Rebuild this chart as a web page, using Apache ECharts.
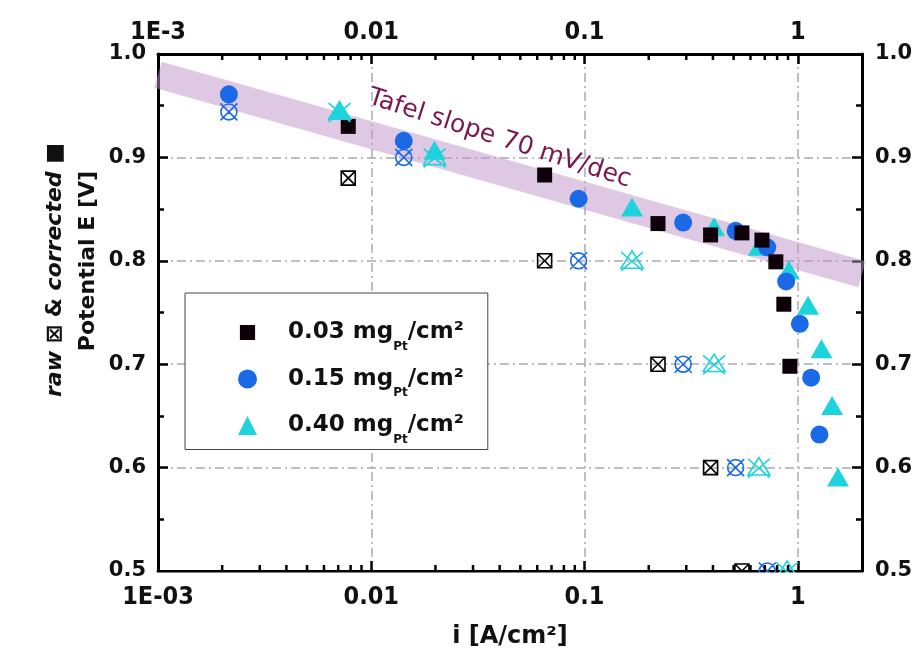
<!DOCTYPE html>
<html><head><meta charset="utf-8">
<script src="https://cdn.jsdelivr.net/npm/echarts@6/dist/echarts.min.js"></script>
<style>html,body{margin:0;padding:0;background:#fff}#c{width:919px;height:662px}</style>
</head><body><div id="c"></div>
<script>
// ---- data ----
const corr003_i = [0.0078, 0.065, 0.221, 0.39, 0.547, 0.679, 0.789, 0.86, 0.918];
const corr003_E = [0.930, 0.883, 0.836, 0.825, 0.827, 0.820, 0.799, 0.758, 0.698];
const raw003_i  = [0.0078, 0.065, 0.221, 0.39, 0.547];
const raw003_E  = [0.880, 0.800, 0.700, 0.600, 0.500];
const corr015_i = [0.00215, 0.0142, 0.0938, 0.290, 0.511, 0.719, 0.882, 1.022, 1.155, 1.263];
const corr015_E = [0.961, 0.916, 0.860, 0.837, 0.829, 0.813, 0.780, 0.739, 0.687, 0.632];
const raw015_i  = [0.00215, 0.0142, 0.0938, 0.290, 0.511, 0.719];
const raw015_E  = [0.944, 0.900, 0.800, 0.700, 0.600, 0.500];
const corr040_i = [0.0071, 0.0198, 0.167, 0.405, 0.657, 0.908, 1.117, 1.291, 1.448, 1.544];
const corr040_E = [0.946, 0.907, 0.852, 0.833, 0.814, 0.791, 0.757, 0.715, 0.660, 0.591];
const raw040_i  = [0.0071, 0.0198, 0.167, 0.405, 0.657, 0.89];
const raw040_E  = [0.944, 0.900, 0.800, 0.700, 0.600, 0.500];
const tafel_i = [0.001, 2];
const tafel_E = [0.980, 0.787];
const seriesNames = ['0.03', '0.15', '0.40'];
const xMinorTicks = [0.002,0.003,0.004,0.005,0.006,0.007,0.008,0.009,
                     0.02,0.03,0.04,0.05,0.06,0.07,0.08,0.09,
                     0.2,0.3,0.4,0.5,0.6,0.7,0.8,0.9];
const bottomTickLabels = {'-3':'1E-03','-2':'0.01','-1':'0.1','0':'1'};
const topTickLabels = {'-3':'1E-3','-2':'0.01','-1':'0.1','0':'1'};
const tafelText = 'Tafel slope 70 mV/dec';

// ---- helpers ----
const pairs = (xs, ys) => xs.map((x, k) => [x, ys[k]]);
const BLACK = '#0d0008', BLUE = '#1a6ae8', CYAN = '#1fd3dc';
const narrow = "'Liberation Sans Narrow','DejaVu Sans Condensed',sans-serif";
const wide = "'DejaVu Sans',sans-serif";
const gridLine = {show: true, lineStyle: {color: '#aaaaaa', width: 1.5, type: [9, 4, 2, 4]}};
function logLabel(map) {
  return v => { const e = Math.round(Math.log10(v)); return (Math.abs(Math.log10(v) - e) < 1e-6 && map[String(e)] !== undefined) ? map[String(e)] : ''; };
}
const sqX = 'path://M0,0H10V10H0Z M0,0L10,10 M10,0L0,10';
const ciX = 'path://M9.3,5A4.3,4.3,0,1,1,0.7,5A4.3,4.3,0,1,1,9.3,5Z M0.4,0.4L9.6,9.6M9.6,0.4L0.4,9.6';
const trX = 'path://M5,0L10,8.7L0,8.7Z M0,0.6L10,10 M10,0.6L0,10';

const chart = echarts.init(document.getElementById('c'), null, {renderer: 'canvas'});
const xBase = {
  type: 'log', logBase: 10, min: 0.001, max: 2,
  axisLine: {show: true, onZero: false, lineStyle: {color: '#000', width: 3}},
  axisTick: {show: true, inside: true, length: 10, lineStyle: {color: '#000', width: 2.5}},
  minorTick: {show: false},
};
const yBase = {
  type: 'value', min: 0.5, max: 1.0, interval: 0.1,
  axisLine: {show: true, lineStyle: {color: '#000', width: 3}},
  axisTick: {show: true, inside: true, length: 10, lineStyle: {color: '#000', width: 2.5}},
  minorTick: {show: true, splitNumber: 2, length: 6, lineStyle: {color: '#000', width: 2.5}},
  axisLabel: {formatter: v => v.toFixed(1), fontFamily: wide, fontWeight: 'bold', fontSize: 21, color: '#111'},
};
const option = {
  animation: false,
  backgroundColor: '#fff',
  grid: {left: 158, right: 57, top: 54, bottom: 91, containLabel: false},
  xAxis: [
    Object.assign({}, xBase, {position: 'bottom',
      axisLabel: {formatter: logLabel(bottomTickLabels), showMaxLabel: false, fontFamily: narrow, fontWeight: 'bold', fontSize: 25, color: '#111', margin: 14},
      splitLine: gridLine,
      name: 'i [A/cm²]', nameLocation: 'middle', nameGap: 54,
      nameTextStyle: {fontFamily: wide, fontWeight: 'bold', fontSize: 24, color: '#111'}}),
    Object.assign({}, xBase, {position: 'top',
      axisLabel: {formatter: logLabel(topTickLabels), showMaxLabel: false, fontFamily: narrow, fontWeight: 'bold', fontSize: 25, color: '#111', margin: 9},
      splitLine: {show: false}})
  ],
  yAxis: [
    Object.assign({}, yBase, {position: 'left', splitLine: gridLine, axisLabel: Object.assign({}, yBase.axisLabel, {margin: 12})}),
    Object.assign({}, yBase, {position: 'right', splitLine: {show: false}, axisLabel: Object.assign({}, yBase.axisLabel, {margin: 13})})
  ],
  legend: {
    orient: 'vertical', left: 185, top: 293,
    padding: [28, 24, 4, 53],
    itemGap: 15, itemWidth: 19, itemHeight: 19,
    backgroundColor: '#fff', borderColor: '#444', borderWidth: 1, borderRadius: 0,
    data: [{name: '0.03', icon: 'path://M2,2H18V18H2Z M0,0h0.01v0.01h-0.01Z M20,20h-0.01v-0.01h0.01Z'}, {name: '0.15', icon: 'circle'}, {name: '0.40', icon: 'triangle'}],
    formatter: n => '{n|' + n + ' mg}{s|Pt}{n|/cm²}',
    textStyle: {
      padding: [0, 0, 0, 26],
      rich: {
        n: {fontFamily: wide, fontWeight: 'bold', fontSize: 23, color: '#111', lineHeight: 26},
        s: {fontFamily: wide, fontWeight: 'bold', fontSize: 12, color: '#111', verticalAlign: 'bottom', padding: [0, 0, -7, 0]}
      }
    }
  },
  series: [
    {type: 'line', name: 'tafel', data: pairs(tafel_i, tafel_E), symbol: 'none', silent: true, z: 1,
     lineStyle: {color: 'rgba(190,145,200,0.5)', width: 27, cap: 'butt'}},
    {type: 'custom', name: 'minorTicks', silent: true, z: 5, clip: false,
     data: xMinorTicks.map(v => [v, 0.75]),
     renderItem: (params, api) => {
       const x = api.coord([api.value(0), api.value(1)])[0];
       const cs = params.coordSys;
       const st = {stroke: '#000', lineWidth: 2.5};
       return {type: 'group', children: [
         {type: 'line', shape: {x1: x, y1: cs.y + cs.height, x2: x, y2: cs.y + cs.height - 6}, style: st},
         {type: 'line', shape: {x1: x, y1: cs.y, x2: x, y2: cs.y + 6}, style: st}
       ]};
     }},
    {type: 'scatter', name: '0.40', data: pairs(corr040_i, corr040_E), symbol: 'triangle', symbolSize: [22, 19], z: 3,
     itemStyle: {color: CYAN, opacity: 1}},
    {type: 'scatter', name: '0.15', data: pairs(corr015_i, corr015_E), symbol: 'circle', symbolSize: 18, z: 3,
     itemStyle: {color: BLUE, opacity: 1}},
    {type: 'scatter', name: '0.03', data: pairs(corr003_i, corr003_E), symbol: 'rect', symbolSize: 15, z: 3,
     itemStyle: {color: BLACK, opacity: 1}},
    {type: 'scatter', name: 'raw 0.03', data: pairs(raw003_i, raw003_E), symbol: sqX, symbolSize: 14, z: 4,
     itemStyle: {color: 'rgba(0,0,0,0)', borderColor: '#000', borderWidth: 1.6, opacity: 1}},
    {type: 'scatter', name: 'raw 0.15', data: pairs(raw015_i, raw015_E), symbol: ciX, symbolSize: 17, z: 4,
     itemStyle: {color: 'rgba(0,0,0,0)', borderColor: BLUE, borderWidth: 1.6, opacity: 1}},
    {type: 'scatter', name: 'raw 0.40', data: pairs(raw040_i, raw040_E), symbol: trX, symbolSize: [22, 20], z: 4,
     itemStyle: {color: 'rgba(0,0,0,0)', borderColor: CYAN, borderWidth: 1.6, opacity: 1}}
  ]
};
chart.setOption(option);

const tp = chart.convertToPixel({xAxisIndex: 0, yAxisIndex: 0}, [0.04, 0.918]);
const gRect = chart.convertToPixel({xAxisIndex: 0, yAxisIndex: 0}, [0.001, 0.5]);
const gRect2 = chart.convertToPixel({xAxisIndex: 0, yAxisIndex: 0}, [2, 0.5]);
chart.setOption({
  graphic: [
    {type: 'rect', id: 'clipBottom', silent: true, z: 10,
     shape: {x: gRect[0] - 2, y: gRect[1] + 1.5, width: gRect2[0] - gRect[0] + 4, height: 13},
     style: {fill: '#fff'}},
    {type: 'text', id: 'tafel', x: tp[0], y: tp[1], rotation: -0.31, z: 10, silent: true,
     style: {text: tafelText, fill: '#7a1650', font: '25px ' + wide, align: 'center', verticalAlign: 'middle'}},
    {type: 'text', id: 'yt1', x: 55, y: 270, rotation: Math.PI / 2, z: 10, silent: true,
     style: {text: '{i|raw }{b|⊠ & }{i|corrected }{b|■}', align: 'center', verticalAlign: 'middle',
       rich: {i: {fontFamily: wide, fontStyle: 'italic', fontWeight: 'bold', fontSize: 22, fill: '#111'},
              b: {fontFamily: wide, fontWeight: 'bold', fontSize: 22, fill: '#111'}}}},
    {type: 'text', id: 'yt2', x: 88, y: 261, rotation: Math.PI / 2, z: 10, silent: true,
     style: {text: 'Potential E [V]', fill: '#111', font: 'bold 22px ' + wide, align: 'center', verticalAlign: 'middle'}}
  ]
});
</script>
</body></html>
